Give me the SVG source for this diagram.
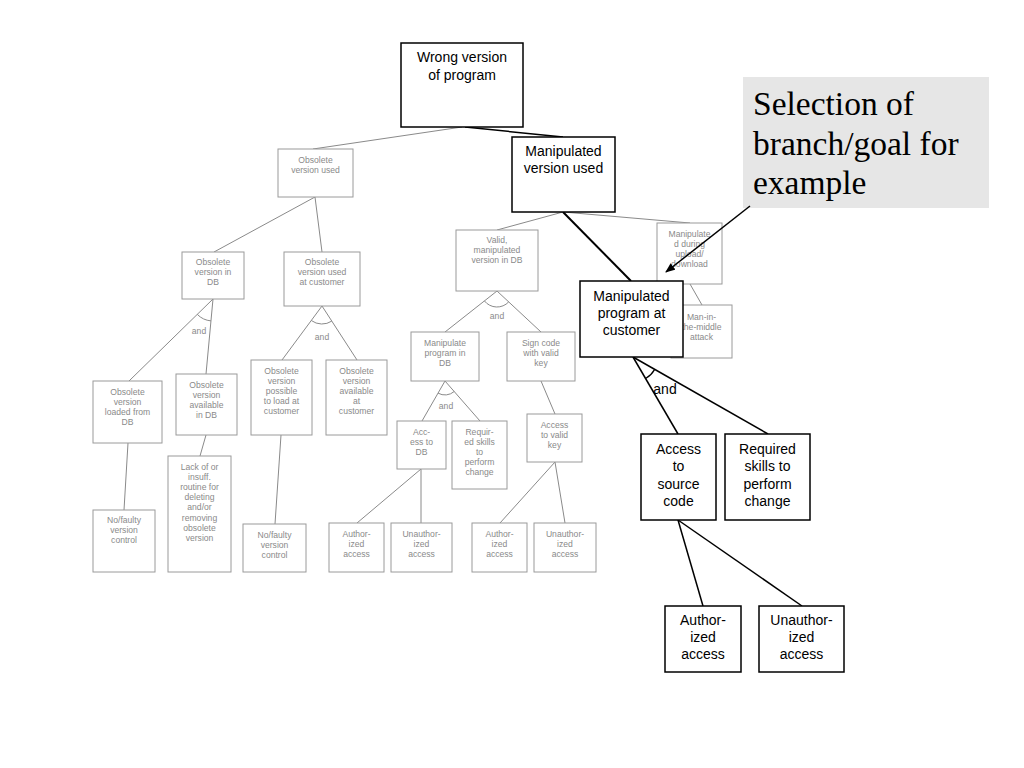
<svg xmlns="http://www.w3.org/2000/svg" width="1024" height="768" viewBox="0 0 1024 768">
<defs>
<marker id="arr" markerWidth="10" markerHeight="8" refX="9" refY="4" orient="auto" markerUnits="userSpaceOnUse">
<path d="M0,0 L10,4 L0,8 Z" fill="#000"/>
</marker>
</defs>
<style>
.g rect{fill:#fff;stroke:#9a9a9a;stroke-width:1}
.g text{font-family:"Liberation Sans",Arial,sans-serif;font-size:8.6px;fill:#8a8a8a;text-anchor:middle}
.b rect{fill:#fff;stroke:#000;stroke-width:1.5}
.b text{font-family:"Liberation Sans",Arial,sans-serif;font-size:14px;fill:#000;text-anchor:middle}
.gl{stroke:#8a8a8a;stroke-width:1;fill:none}
.bl{stroke:#000;stroke-width:1.5;fill:none}
.ga{font-family:"Liberation Sans",Arial,sans-serif;font-size:8.6px;fill:#8a8a8a;text-anchor:middle}
.ba{font-family:"Liberation Sans",Arial,sans-serif;font-size:14px;fill:#000;text-anchor:middle}
</style>
<rect width="1024" height="768" fill="#fff"/>

<g id="connectors">
<line class="gl" x1="462" y1="127" x2="313" y2="149"/>
<line class="bl" x1="465" y1="127" x2="563" y2="137"/>
<line class="gl" x1="315" y1="197" x2="214" y2="252"/>
<line class="gl" x1="315" y1="197" x2="322" y2="252"/>
<line class="gl" x1="213" y1="299" x2="129" y2="381"/>
<line class="gl" x1="213" y1="299" x2="206" y2="374"/>
<path class="gl" d="M197.3,314.4 A22,22 0 0 0 211,320.9"/>
<line class="gl" x1="322" y1="306" x2="282" y2="360"/>
<line class="gl" x1="322" y1="306" x2="357" y2="360"/>
<path class="gl" d="M311.3,320.5 A18,18 0 0 0 331.8,321.1"/>
<line class="gl" x1="128" y1="443" x2="124" y2="510"/>
<line class="gl" x1="206" y1="435" x2="200" y2="456"/>
<line class="gl" x1="281" y1="435" x2="275" y2="524"/>
<line class="gl" x1="563" y1="212" x2="497" y2="230"/>
<line class="gl" x1="563" y1="212" x2="690" y2="223"/>
<line class="gl" x1="690" y1="284" x2="702" y2="305"/>
<line class="gl" x1="497" y1="291" x2="445" y2="332"/>
<line class="gl" x1="497" y1="291" x2="541" y2="332"/>
<path class="gl" d="M484.4,300.9 A16,16 0 0 0 508.7,301.9"/>
<line class="gl" x1="445" y1="381" x2="422" y2="421"/>
<line class="gl" x1="445" y1="381" x2="480" y2="421"/>
<path class="gl" d="M438,393.1 A14,14 0 0 0 454.2,391.5"/>
<line class="gl" x1="541" y1="381" x2="555" y2="414"/>
<line class="gl" x1="421" y1="469" x2="357" y2="523"/>
<line class="gl" x1="421" y1="469" x2="421" y2="523"/>
<line class="gl" x1="555" y1="462" x2="500" y2="523"/>
<line class="gl" x1="555" y1="462" x2="565" y2="523"/>
<line class="bl" x1="563" y1="212" x2="631" y2="281" style="stroke-width:2"/>
<line class="bl" x1="633" y1="357" x2="678" y2="434"/>
<line class="bl" x1="633" y1="357" x2="768" y2="434"/>
<path class="bl" d="M645.6,378.6 A25,25 0 0 0 654.7,369.4" style="stroke-width:1.2"/>
<line class="bl" x1="678" y1="520" x2="703" y2="606"/>
<line class="bl" x1="678" y1="520" x2="802" y2="606"/>
<text class="ga" x="199" y="334">and</text>
<text class="ga" x="322" y="340">and</text>
<text class="ga" x="497" y="319">and</text>
<text class="ga" x="446" y="409">and</text>
</g>

<g id="n_obsolete_used" class="g"><rect x="278" y="149" width="75" height="48"/>
<text x="315.5" y="163">Obsolete</text><text x="315.5" y="173">version used</text></g>

<g id="n_obsolete_db" class="g"><rect x="182" y="252" width="62" height="47"/>
<text x="213" y="265">Obsolete</text><text x="213" y="275">version in</text><text x="213" y="285">DB</text></g>

<g id="n_obsolete_cust" class="g"><rect x="284" y="252" width="76" height="54"/>
<text x="322" y="265">Obsolete</text><text x="322" y="275">version used</text><text x="322" y="285">at customer</text></g>

<g id="n_loaded_db" class="g"><rect x="93" y="381" width="69" height="62"/>
<text x="127.5" y="395">Obsolete</text><text x="127.5" y="405">version</text><text x="127.5" y="415">loaded from</text><text x="127.5" y="425">DB</text></g>

<g id="n_avail_db" class="g"><rect x="176" y="374" width="61" height="61"/>
<text x="206.5" y="388">Obsolete</text><text x="206.5" y="398">version</text><text x="206.5" y="408">available</text><text x="206.5" y="418">in DB</text></g>

<g id="n_possible" class="g"><rect x="251" y="360" width="61" height="75"/>
<text x="281.5" y="374">Obsolete</text><text x="281.5" y="384">version</text><text x="281.5" y="394">possible</text><text x="281.5" y="404">to load at</text><text x="281.5" y="414">customer</text></g>

<g id="n_avail_cust" class="g"><rect x="326" y="360" width="61" height="75"/>
<text x="356.5" y="374">Obsolete</text><text x="356.5" y="384">version</text><text x="356.5" y="394">available</text><text x="356.5" y="404">at</text><text x="356.5" y="414">customer</text></g>

<g id="n_nofaulty1" class="g"><rect x="93" y="510" width="62" height="62"/>
<text x="124" y="523">No/faulty</text><text x="124" y="533">version</text><text x="124" y="543">control</text></g>

<g id="n_lack" class="g"><rect x="168" y="456" width="63" height="116"/>
<text x="199.5" y="470">Lack of or</text><text x="199.5" y="480">insuff.</text><text x="199.5" y="490">routine for</text><text x="199.5" y="500">deleting</text><text x="199.5" y="510">and/or</text><text x="199.5" y="521">removing</text><text x="199.5" y="531">obsolete</text><text x="199.5" y="541">version</text></g>

<g id="n_nofaulty2" class="g"><rect x="243" y="524" width="63" height="48"/>
<text x="274.5" y="538">No/faulty</text><text x="274.5" y="548">version</text><text x="274.5" y="558">control</text></g>

<g id="n_valid" class="g"><rect x="456" y="230" width="82" height="61"/>
<text x="497" y="243">Valid,</text><text x="497" y="253">manipulated</text><text x="497" y="263">version in DB</text></g>

<g id="n_manip_db" class="g"><rect x="411" y="332" width="68" height="49"/>
<text x="445" y="346">Manipulate</text><text x="445" y="356">program in</text><text x="445" y="366">DB</text></g>

<g id="n_sign" class="g"><rect x="507" y="332" width="68" height="49"/>
<text x="541" y="346">Sign code</text><text x="541" y="356">with valid</text><text x="541" y="366">key</text></g>

<g id="n_access_db" class="g"><rect x="397" y="421" width="49" height="48"/>
<text x="421.5" y="435">Acc-</text><text x="421.5" y="445">ess to</text><text x="421.5" y="455">DB</text></g>

<g id="n_req_db" class="g"><rect x="452" y="421" width="55" height="68"/>
<text x="479.5" y="435">Requir-</text><text x="479.5" y="445">ed skills</text><text x="479.5" y="455">to</text><text x="479.5" y="465">perform</text><text x="479.5" y="475">change</text></g>

<g id="n_access_key" class="g"><rect x="527" y="414" width="55" height="48"/>
<text x="554.5" y="428">Access</text><text x="554.5" y="438">to valid</text><text x="554.5" y="448">key</text></g>

<g id="n_auth1" class="g"><rect x="329" y="523" width="55" height="49"/>
<text x="356.5" y="537">Author-</text><text x="356.5" y="547">ized</text><text x="356.5" y="557">access</text></g>

<g id="n_unauth1" class="g"><rect x="391" y="523" width="61" height="49"/>
<text x="421.5" y="537">Unauthor-</text><text x="421.5" y="547">ized</text><text x="421.5" y="557">access</text></g>

<g id="n_auth2" class="g"><rect x="472" y="523" width="55" height="49"/>
<text x="499.5" y="537">Author-</text><text x="499.5" y="547">ized</text><text x="499.5" y="557">access</text></g>

<g id="n_unauth2" class="g"><rect x="534" y="523" width="62" height="49"/>
<text x="565" y="537">Unauthor-</text><text x="565" y="547">ized</text><text x="565" y="557">access</text></g>

<g id="n_upload" class="g"><rect x="657" y="223" width="65" height="61"/>
<text x="689.5" y="237">Manipulate</text><text x="689.5" y="247">d during</text><text x="689.5" y="257">upload/</text><text x="689.5" y="267">download</text></g>

<g id="n_mitm" class="g"><rect x="671" y="305" width="61" height="53"/>
<text x="701.5" y="320">Man-in-</text><text x="701.5" y="330">the-middle</text><text x="701.5" y="340">attack</text></g>

<g id="n_root" class="b"><rect x="401" y="43" width="122" height="84"/>
<text x="462" y="62">Wrong version</text><text x="462" y="80">of program</text></g>

<g id="n_manip_used" class="b"><rect x="512" y="137" width="103" height="75"/>
<text x="563.5" y="156">Manipulated</text><text x="563.5" y="173">version used</text></g>

<g id="n_manip_cust" class="b"><rect x="580" y="281" width="103" height="76"/>
<text x="631.5" y="301">Manipulated</text><text x="631.5" y="318">program at</text><text x="631.5" y="335">customer</text></g>

<text class="ba" x="665" y="394">and</text>

<g id="n_access_src" class="b"><rect x="641" y="434" width="75" height="86"/>
<text x="678.5" y="454">Access</text><text x="678.5" y="471">to</text><text x="678.5" y="489">source</text><text x="678.5" y="506">code</text></g>

<g id="n_req_skills" class="b"><rect x="725" y="434" width="85" height="86"/>
<text x="767.5" y="454">Required</text><text x="767.5" y="471">skills to</text><text x="767.5" y="489">perform</text><text x="767.5" y="506">change</text></g>

<g id="n_auth3" class="b"><rect x="665" y="606" width="76" height="66"/>
<text x="703" y="625">Author-</text><text x="703" y="642">ized</text><text x="703" y="659">access</text></g>

<g id="n_unauth3" class="b"><rect x="759" y="606" width="85" height="66"/>
<text x="801.5" y="625">Unauthor-</text><text x="801.5" y="642">ized</text><text x="801.5" y="659">access</text></g>

<g id="n_note">
<rect x="743" y="77" width="246" height="131" fill="#e6e6e6"/>
<text x="753" y="115" font-family="Liberation Serif,Times New Roman,serif" font-size="33.5" fill="#000">Selection of</text>
<text x="753" y="155" font-family="Liberation Serif,Times New Roman,serif" font-size="33.5" fill="#000">branch/goal for</text>
<text x="753" y="194" font-family="Liberation Serif,Times New Roman,serif" font-size="33.5" fill="#000">example</text>
</g>
<g id="arrow">
<line x1="750" y1="206" x2="666" y2="272" stroke="#000" stroke-width="1.5" marker-end="url(#arr)"/>
</g>
</svg>
